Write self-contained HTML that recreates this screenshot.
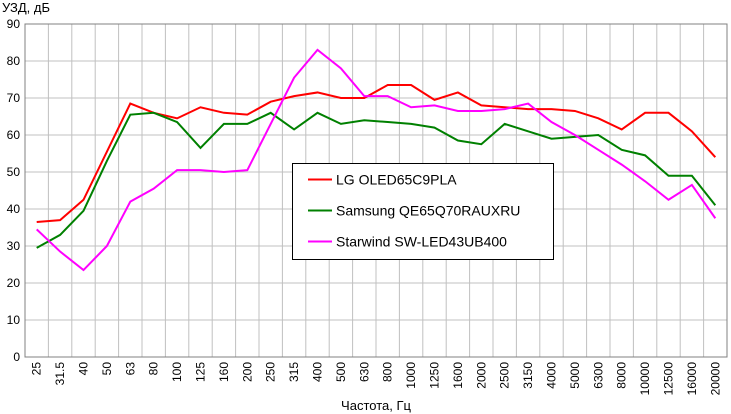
<!DOCTYPE html>
<html><head><meta charset="utf-8"><style>
body{margin:0;background:#fff;}
svg{display:block;font-family:"Liberation Sans",sans-serif;}
</style></head><body>
<svg id="c" width="731" height="414"></svg>
<script>
const categories=["25","31.5","40","50","63","80","100","125","160","200","250","315","400","500","630","800","1000","1250","1600","2000","2500","3150","4000","5000","6300","8000","10000","12500","16000","20000"];
const lgValues=[36.5,37,42.5,55.5,68.5,66,64.5,67.5,66,65.5,69,70.5,71.5,70,70,73.5,73.5,69.5,71.5,68,67.5,67,67,66.5,64.5,61.5,66,66,61,54];
const samsungValues=[29.5,33,39.5,53,65.5,66,63.5,56.5,63,63,66,61.5,66,63,64,63.5,63,62,58.5,57.5,63,61,59,59.5,60,56,54.5,49,49,41];
const starwindValues=[34.5,28.5,23.5,30,42,45.5,50.5,50.5,50,50.5,63,75.5,83,78,70.5,70.5,67.5,68,66.5,66.5,67,68.5,63.5,60,56,52,47.5,42.5,46.5,37.5];
const yTicks=[0,10,20,30,40,50,60,70,80,90];
const seriesNames=["LG OLED65C9PLA","Samsung QE65Q70RAUXRU","Starwind SW-LED43UB400"];
const NS="http://www.w3.org/2000/svg";
const svg=document.getElementById('c');
const L=25,R=727,T=24,B=357,bw=(R-L)/categories.length;
const x=i=>L+bw*(i+0.5);
const y=v=>B-(v/90)*(B-T);
function mk(t,a,p){const e=document.createElementNS(NS,t);for(const k in a)e.setAttribute(k,a[k]);(p||svg).appendChild(e);return e;}
for(let i=0;i<=categories.length;i++){
 const g=mk('line',{x1:L+bw*i,x2:L+bw*i,y1:T,y2:B,stroke:'#c0c0c0','stroke-width':1});
 
 
}
yTicks.forEach(v=>{
 const g=mk('line',{x1:L,x2:R,y1:y(v),y2:y(v),stroke:'#c0c0c0','stroke-width':1});
 
 
 const t=mk('text',{x:20,y:y(v)+4,'text-anchor':'end','font-size':12});
 t.textContent=v;
 
 
});
const ax=mk('rect',{x:L,y:T,width:R-L,height:B-T,fill:'none',stroke:'#808080'});


categories.forEach((c,i)=>{
 const t=mk('text',{x:0,y:0,'text-anchor':'end','font-size':12,transform:`translate(${x(i)+4},362) rotate(-90)`});
 t.textContent=c;
 
 
});
const colors=['#ff0000','#008000','#ff00ff'];
[lgValues,samsungValues,starwindValues].forEach((s,k)=>{
 const p=mk('polyline',{points:s.map((v,i)=>x(i)+','+y(v)).join(' '),fill:'none',stroke:colors[k],'stroke-width':2});
 
 
});
const lg=mk('g',{});


mk('rect',{x:292.5,y:163.5,width:261,height:96,fill:'#fff',stroke:'#000'},lg);
seriesNames.forEach((n,k)=>{
 const yy=179.5+k*31;
 const l=mk('line',{x1:308,x2:332,y1:yy,y2:yy,stroke:colors[k],'stroke-width':2},lg);
 
 
 const t=mk('text',{x:336,y:yy+5,'font-size':14},lg);
 t.textContent=n;
 
 
});
const yt=mk('text',{x:2,y:12,'font-size':13});
yt.textContent='УЗД, дБ';


const xt=mk('text',{x:376,y:410,'text-anchor':'middle','font-size':13});
xt.textContent='Частота, Гц';


</script>
</body></html>
